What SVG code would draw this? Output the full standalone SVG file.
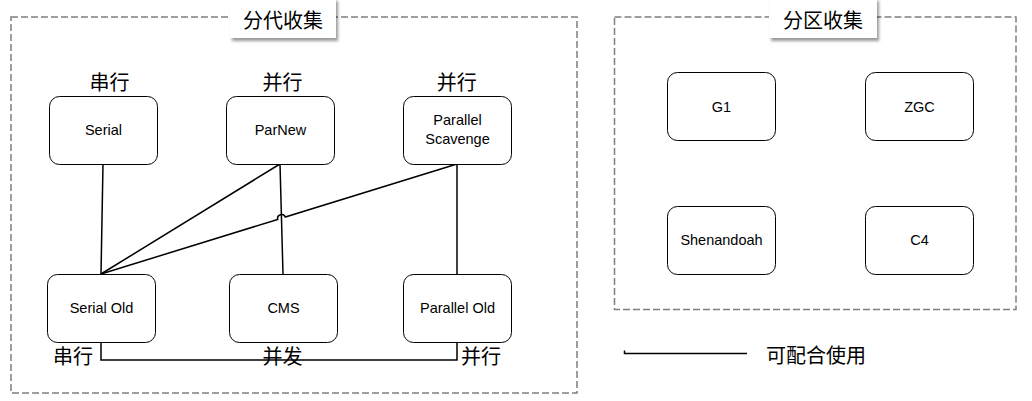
<svg xmlns="http://www.w3.org/2000/svg" width="1032" height="401" viewBox="0 0 1032 401">
  <style>
    .frame { fill: none; stroke: #7f7f7f; stroke-width: 1.5; stroke-dasharray: 7 3; }
    .node rect { fill: #ffffff; stroke: #000000; stroke-width: 1; }
    .ntext { font-family: "Liberation Sans", Arial, sans-serif; font-size: 14.5px; fill: #000000; text-anchor: middle; }
    .cjk { font-family: "Noto Sans CJK SC", "Noto Sans", sans-serif; font-size: 20px; fill: #000000; text-anchor: middle; }
    .conn { fill: none; stroke: #000000; stroke-width: 1.5; }
    .titlebox { fill: #ffffff; filter: url(#shadow); }
  </style>
  <defs>
    <filter id="shadow" x="-20%" y="-30%" width="140%" height="170%">
      <feDropShadow dx="2" dy="3" stdDeviation="1.8" flood-color="#000000" flood-opacity="0.4"/>
    </filter>
  </defs>
  <rect width="1032" height="401" fill="#ffffff"/>

  <g id="frame-generational">
    <rect class="frame" x="11" y="17" width="566" height="376"/>
    <rect class="titlebox" x="230" y="-2" width="106" height="40"/>
    <text class="cjk" x="283" y="28">分代收集</text>
  </g>
  <g id="frame-regional">
    <rect class="frame" x="614.5" y="17" width="401.5" height="292.5"/>
    <rect class="titlebox" x="769" y="-2" width="108" height="40"/>
    <text class="cjk" x="823" y="28">分区收集</text>
  </g>

  <g id="connectors">
    <path class="conn" d="M103,164 L101,274"/>
    <path class="conn" d="M280,164 L101,274"/>
    <path class="conn" d="M280,164 L283,274"/>
    <path class="conn" d="M457,164 L285.3,217 A4,4 0 0 0 277.7,219.4 L101,274"/>
    <path class="conn" d="M457,164 L457,274"/>
    <path class="conn" d="M101,342 L101,360 L457,360 L457,342"/>
  </g>

  <g id="node-serial" class="node">
    <rect x="49.5" y="96.5" width="108" height="68" rx="10"/>
    <text class="ntext" x="103.5" y="135">Serial</text>
  </g>
  <g id="node-parnew" class="node">
    <rect x="226.5" y="96.5" width="108" height="68" rx="10"/>
    <text class="ntext" x="280.5" y="135">ParNew</text>
  </g>
  <g id="node-parallel-scavenge" class="node">
    <rect x="403.5" y="96.5" width="108" height="68" rx="10"/>
    <text class="ntext" x="457.5" y="125">Parallel</text>
    <text class="ntext" x="457.5" y="144">Scavenge</text>
  </g>
  <g id="node-serial-old" class="node">
    <rect x="47.5" y="274.5" width="108" height="68" rx="10"/>
    <text class="ntext" x="101.5" y="313">Serial Old</text>
  </g>
  <g id="node-cms" class="node">
    <rect x="229.5" y="274.5" width="108" height="68" rx="10"/>
    <text class="ntext" x="283.5" y="313">CMS</text>
  </g>
  <g id="node-parallel-old" class="node">
    <rect x="403.5" y="274.5" width="108" height="68" rx="10"/>
    <text class="ntext" x="457.5" y="313">Parallel Old</text>
  </g>

  <g id="node-g1" class="node">
    <rect x="667.5" y="72.5" width="108" height="68" rx="10"/>
    <text class="ntext" x="721.5" y="111.5">G1</text>
  </g>
  <g id="node-zgc" class="node">
    <rect x="865.5" y="72.5" width="108" height="68" rx="10"/>
    <text class="ntext" x="919.5" y="111.5">ZGC</text>
  </g>
  <g id="node-shenandoah" class="node">
    <rect x="667.5" y="206.5" width="108" height="68" rx="10"/>
    <text class="ntext" x="721.5" y="245">Shenandoah</text>
  </g>
  <g id="node-c4" class="node">
    <rect x="865.5" y="206.5" width="108" height="68" rx="10"/>
    <text class="ntext" x="919.5" y="245">C4</text>
  </g>

  <g id="labels">
    <text class="cjk" x="109.5" y="90">串行</text>
    <text class="cjk" x="282.5" y="90">并行</text>
    <text class="cjk" x="456.7" y="90">并行</text>
    <text class="cjk" x="73" y="363.5">串行</text>
    <text class="cjk" x="282.5" y="363.5">并发</text>
    <text class="cjk" x="481" y="363.5">并行</text>
  </g>

  <g id="legend">
    <path class="conn" d="M624.5,350.5 L624.5,353.5 L747,353.5"/>
    <text class="cjk" x="816" y="362.5">可配合使用</text>
  </g>
</svg>
